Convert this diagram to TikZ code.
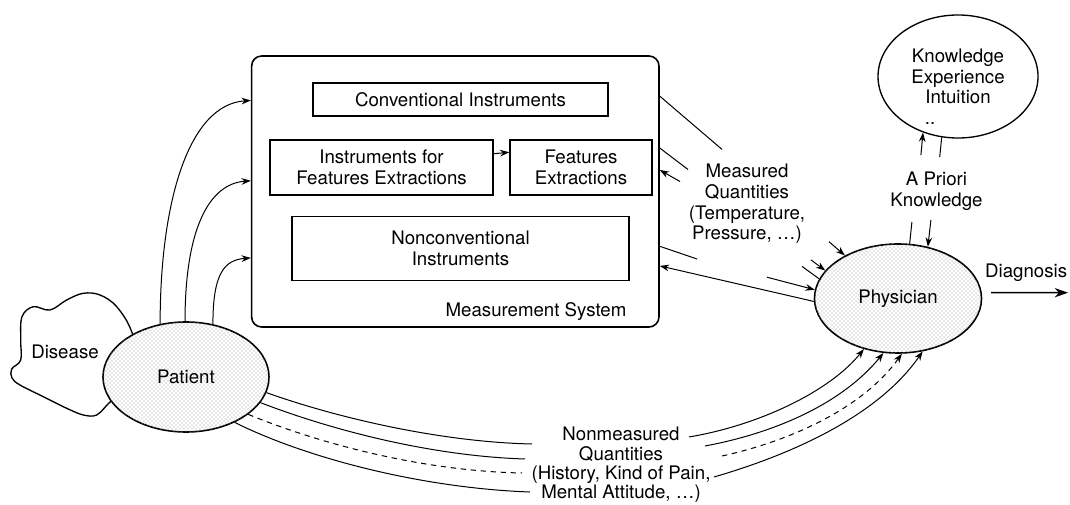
\documentclass[tikz,border=0pt]{standalone}
\usepackage{fontspec}
\setmainfont{TeX Gyre Heros}
\usetikzlibrary{shapes.geometric,arrows.meta,patterns}

\tikzset{every picture/.style={line width=0.75pt}}
\tikzset{
	box/.style={draw, line width=1pt, inner sep=0pt, align=center},
	oval/.style={ellipse, draw, line width=1.2pt, inner sep=0pt, align=center},
	stipple/.style={fill=white, postaction={pattern=crosshatch dots, pattern color=black!40}},
	arr/.style={-{Stealth[length=7pt,width=5pt]}},
}

\begin{document}
\begin{tikzpicture}[x=0.75pt,y=0.75pt,yscale=-1,xscale=1,font=\fontsize{14}{15.5}\selectfont]
	\useasboundingbox (0,0) rectangle (1070,505);

	%Shape: Blob (disease)
	\draw [line width=1pt, fill=white] plot [smooth cycle, tension=0.6] coordinates {(131.7,331.7) (116.7,306.7) (100,295) (83.3,293.3) (66.7,300) (50,310) (33.3,306.7) (22,316.7) (20.7,340) (20.7,360) (11.7,369) (12,378) (20,385) (43.3,396.7) (66.7,408.3) (83.3,415) (96.7,415) (108,404) (140,370)};
	% Text Node
	\node (dis) at (65,352) {Disease};

	%Shape: Ellipses
	\node [oval, stipple, minimum width=124.5pt, minimum height=82.5pt] (pat) at (186,377) {Patient};
	\node [oval, stipple, minimum width=125.25pt, minimum height=81.75pt] (phys) at (898,298.5) {Physician};
	\node [oval, line width=1pt, minimum width=120pt, minimum height=92.25pt] (know) at (958,76.5) {Knowledge\\Experience\\Intuition};
	\node (kdots) at (930,124) {..};

	%Shape: Rounded Rect (measurement system)
	\node [box, line width=1.2pt, rounded corners=7.5pt, minimum width=305.5pt, minimum height=203.25pt] (ms) at (455.3,191.5) {};
	\node (msl) at (536,312) {Measurement System};

	%Shape: Rectangles
	\node [box, minimum width=221.25pt, minimum height=24.75pt] (conv) at (460.5,99.5) {Conventional Instruments};
	\node [box, minimum width=167.25pt, minimum height=41.25pt] (ife) at (381.5,167.5) {Instruments for\\Features Extractions};
	\node [box, minimum width=106.5pt, minimum height=41.25pt] (fe) at (581,167.5) {Features\\Extractions};
	\node [box, minimum width=252.75pt, minimum height=48pt] (noncon) at (460.5,248.5) {Nonconventional\\Instruments};

	%Straight Lines
	\draw [arr] (ife.7.4) -- (fe.168.5);

	%Curve Lines (patient to measurement system)
	\draw [arr] (pat.116) .. controls +(0,-123) and +(-62,4) .. (ms.156);
	\draw [arr] (pat.91) .. controls +(0,-92) and +(-42,3) .. (ms.177.6);
	\draw [arr] (pat.63.5) .. controls +(0,-50) and +(-27,2) .. (ms.198);

	% Text Node
	\node [align=center] (mq) at (747,204) {Measured\\Quantities\\(Temperature,\\Pressure, \ldots)};

	%Straight Lines (measured quantities)
	\coordinate (qa1) at (722,149.4);
	\coordinate (qa2) at (829,241.7);
	\coordinate (qb1) at (688,169.5);
	\coordinate (qb2) at (811,259.9);
	\coordinate (qc1) at (802,266.4);
	\coordinate (qc2) at (680,181.5);
	\coordinate (qd1) at (697,259);
	\coordinate (qd2) at (767,277.2);
	\draw (ms.25.35) -- (qa1);
	\draw [arr] (qa2) -- (phys.141);
	\draw (ms.12) -- (qb1);
	\draw [arr] (qb2) -- (phys.159);
	\draw (phys.166) -- (qc1);
	\draw [arr] (qc2) -- (ms.6.9);
	\draw (ms.-15.8) -- (qd1);
	\draw [arr] (qd2) -- (phys.174);
	\draw [arr] (phys.182) -- (ms.-20.3);

	% Text Node
	\node [align=center] (apk) at (936.5,191) {A Priori\\Knowledge};

	%Straight Lines (a priori knowledge)
	\coordinate (pk1) at (911.9,222);
	\coordinate (pk2) at (920.9,155);
	\coordinate (kp1) at (939.7,157);
	\coordinate (kp2) at (930.9,220);
	\draw (phys.78.6) -- (pk1);
	\draw [arr] (pk2) -- (know.238.6);
	\draw (know.255.6) -- (kp1);
	\draw [arr] (kp2) -- (phys.60.4);

	% Text Node
	\node [anchor=east, inner sep=1pt] (dgn) at (1069,273) {Diagnosis};
	\coordinate (out) at (1068,292.7);
	\draw [-{Stealth[length=10pt,width=7pt]}, line width=1.2pt, shorten <=7pt] (phys.4) -- (out);

	% Text Node
	\node [align=center, font=\fontsize{14}{14.5}\selectfont] (nmq) at (621,465) {Nonmeasured\\Quantities\\(History, Kind of Pain,\\Mental Attitude, \ldots)};

	%Curve Lines (nonmeasured quantities)
	\coordinate (n1) at (532,444);
	\coordinate (n2) at (525,459);
	\coordinate (n3) at (522,473);
	\coordinate (n4) at (530,492);
	\draw (pat.-11) .. controls +(70,25) and +(-92,-2) .. (n1);
	\draw (pat.-19.4) .. controls +(70,27) and +(-95,-3) .. (n2);
	\draw [dash pattern=on 4pt off 3.5pt] (pat.-31) .. controls +(68,28) and +(-102,-2) .. (n3);
	\draw (pat.-43) .. controls +(70,35) and +(-110,-4) .. (n4);

	\coordinate (m1) at (689,437);
	\coordinate (m2) at (705,446);
	\coordinate (m3) at (722,456);
	\coordinate (m4) at (714,477);
	\draw [arr] (m1) .. controls +(71,-12) and +(-34,42) .. (phys.236);
	\draw [arr] (m2) .. controls +(75,-14) and +(-39,48) .. (phys.255);
	\draw [arr, dash pattern=on 4pt off 3.5pt] (m3) .. controls +(73,-16) and +(-37,52) .. (phys.274);
	\draw [arr] (m4) .. controls +(86,-25) and +(-42,61) .. (phys.295);

\end{tikzpicture}
\end{document}
